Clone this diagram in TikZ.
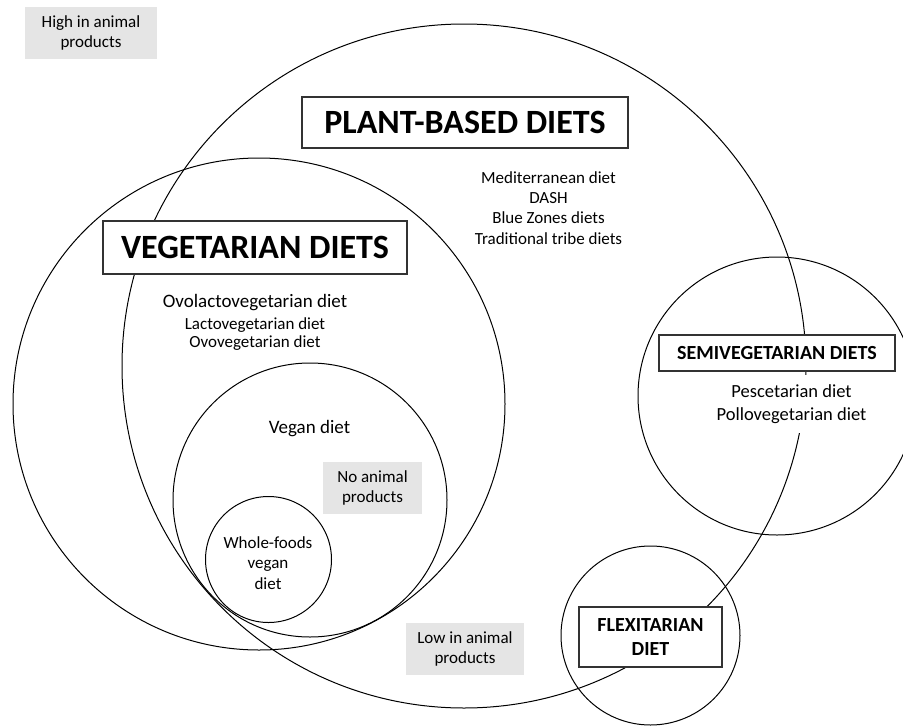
\documentclass[tikz,border=0pt]{standalone}
\usepackage{fontspec}
\setmainfont{Carlito}
\begin{document}
\begin{tikzpicture}[x=1pt,y=-1pt,
  ring/.style={circle, draw=black, line width=1pt, minimum size=#1, inner sep=0pt},
  titlebox/.style={draw=black!80, line width=1.2pt, fill=white, inner sep=0pt, align=center},
  graybox/.style={fill=black!10, inner sep=0pt, align=center, font=\fontsize{17}{20.5}\selectfont},
  txt/.style={inner sep=0pt, align=center, font=\fontsize{17}{20.3}\selectfont}
]
\useasboundingbox (0,0) rectangle (903,726);
\clip (0,0) rectangle (903,726);
% circles
\node[ring=684pt] (plant) at (464,366) {};
\node[ring=492pt] (veg) at (259,404) {};
\node[ring=274pt] (vegan) at (310,500) {};
\node[ring=126pt] (whole) at (268.5,559.5) {};
\node[ring=278pt] (semi) at (777,396) {};
\node[ring=179pt] (flex) at (650.5,635.5) {};
% title boxes
\node[titlebox, minimum width=326pt, minimum height=51pt, font=\bfseries\fontsize{34}{40}\selectfont] (plantT) at (465,122.5) {PLANT-BASED DIETS};
\node[titlebox, minimum width=304pt, minimum height=53pt, font=\bfseries\fontsize{34}{40}\selectfont] (vegT) at (255,247.5) {VEGETARIAN DIETS};
\node[titlebox, minimum width=236pt, minimum height=36pt, font=\bfseries\fontsize{20}{24}\selectfont] (semiT) at (777,353) {SEMIVEGETARIAN DIETS};
\node[titlebox, minimum width=143pt, minimum height=60pt, font=\bfseries\fontsize{20}{24}\selectfont] (flexT) at (650.5,637) {FLEXITARIAN\\DIET};
% gray boxes
\node[graybox, minimum width=132pt, minimum height=52pt] (high) at (91,33) {High in animal\\products};
\node[graybox, minimum width=99pt, minimum height=52pt] (noanimal) at (372.5,488) {No animal\\products};
\node[graybox, minimum width=118pt, minimum height=52pt] (low) at (465,649) {Low in animal\\products};
% texts
\node[txt] (plantL) at (548.5,208) {Mediterranean diet\\DASH\\Blue Zones diets\\Traditional tribe diets};
\node[txt, font=\fontsize{19}{22}\selectfont] (ovolacto) at (255,303) {Ovolactovegetarian diet};
\node[txt, font=\fontsize{17}{18.3}\selectfont] (lacto) at (255,334) {Lactovegetarian diet\\Ovovegetarian diet};
\node[txt, font=\fontsize{19}{22}\selectfont] (veganL) at (309.5,429) {Vegan diet};
\node[txt, font=\fontsize{17}{20.5}\selectfont] (wholeL) at (268,563) {Whole-foods\\vegan\\diet};
\node[txt, fill=white, font=\fontsize{18.5}{23}\selectfont, minimum height=58pt, inner xsep=3pt] (semiL) at (791.5,404) {Pescetarian diet\\Pollovegetarian diet};
\end{tikzpicture}
\end{document}
